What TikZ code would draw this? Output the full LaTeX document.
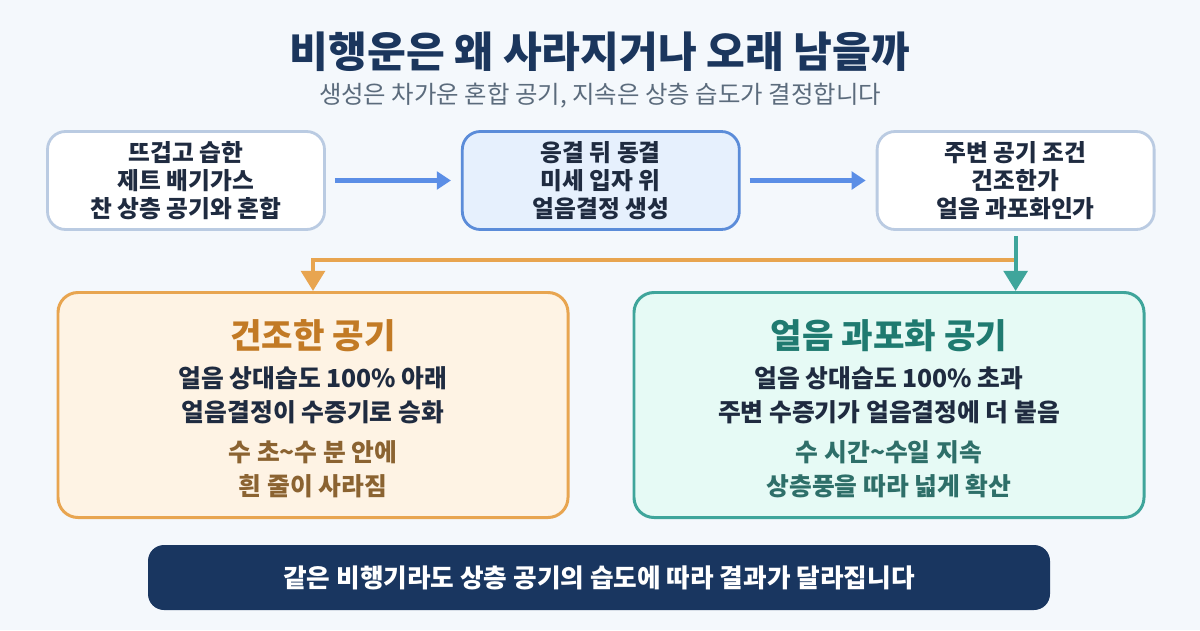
\documentclass[tikz,border=0pt]{standalone}
\usepackage{fontspec}
\setmainfont{Noto Sans CJK KR}
\usetikzlibrary{positioning, arrows.meta}

\definecolor{pagebg}{HTML}{F4F8FC}
\definecolor{navy}{HTML}{1B365D}
\definecolor{ink}{HTML}{1F2B40}
\definecolor{subgray}{HTML}{5B6B7C}
\definecolor{stageline}{HTML}{BACBE2}
\definecolor{coreline}{HTML}{5B8CD9}
\definecolor{corefill}{HTML}{E6F0FD}
\definecolor{flowblue}{HTML}{5B8EE6}
\definecolor{dryline}{HTML}{E8A550}
\definecolor{dryfill}{HTML}{FEF3E4}
\definecolor{dryhead}{HTML}{C27A25}
\definecolor{drytext}{HTML}{8B6331}
\definecolor{wetline}{HTML}{3FA59B}
\definecolor{wetfill}{HTML}{E6FAF5}
\definecolor{wethead}{HTML}{1F7A70}
\definecolor{wettext}{HTML}{2E6F69}
\definecolor{bannerbg}{HTML}{193660}

\begin{document}
\begin{tikzpicture}[
		% Title lines
		headline/.style={font=\bfseries\fontsize{24}{28}\selectfont, text=navy},
		subline/.style={font=\fontsize{13.9}{17}\selectfont, text=subgray},
		% Process stages (top row)
		stage/.style={
			rectangle,
			rounded corners=0.36cm,
			draw=stageline,
			fill=white,
			line width=1.6pt,
			minimum width=5.54cm,
			minimum height=1.96cm,
			align=center,
			text=ink,
			font=\bfseries\fontsize{13.5}{16}\selectfont
		},
		% Outcome boxes (bottom row)
		outcome/.style={
			rectangle,
			rounded corners=0.4cm,
			line width=1.7pt,
			minimum width=10.2cm,
			minimum height=4.5cm
		},
		outhead/.style={font=\bfseries\fontsize{19.5}{22}\selectfont},
		outbody/.style={align=center, font=\bfseries\fontsize{14.1}{19.3}\selectfont},
		% Arrows
		flow/.style={
			-{Triangle[width=10pt,length=8pt]},
			line width=2.4pt,
			draw=flowblue,
			shorten <=0.18cm,
			shorten >=0.2cm
		},
		branch/.style={
			-{Triangle[width=13.5pt,length=11.5pt]},
			line width=2.3pt
		},
		banner/.style={
			rectangle,
			rounded corners=0.32cm,
			fill=bannerbg,
			minimum width=18.04cm,
			minimum height=1.3cm,
			text=white,
			font=\bfseries\fontsize{14.6}{17}\selectfont
		}
	]
	
	% --- CANVAS ---
	\fill[pagebg] (0,0) rectangle (24,12.6);
	\useasboundingbox (0,0) rectangle (24,12.6);
	
	% --- TITLE ---
	\node[headline] (title) at (12,11.56) {비행운은 왜 사라지거나 오래 남을까};
	\node[subline] (subtitle) at (12,10.68) {생성은 차가운 혼합 공기, 지속은 상층 습도가 결정합니다};
	
	% --- STAGES ---
	\node[stage] (mix) at (3.72,8.99) {뜨겁고 습한\\제트 배기가스\\찬 상층 공기와 혼합};
	\node[stage, draw=coreline, fill=corefill, right=2.7cm of mix] (freeze) {응결 뒤 동결\\미세 입자 위\\얼음결정 생성};
	\node[stage, right=2.7cm of freeze] (ambient) {주변 공기 조건\\건조한가\\얼음 과포화인가};
	
	% --- OUTCOMES ---
	\node[outcome, draw=dryline, fill=dryfill] (dry) at (6.26,4.5) {};
	\node[outcome, draw=wetline, fill=wetfill, right=1.26cm of dry] (wet) {};
	
	% Dry air
	\node[outhead, text=dryhead] (dryname) at ([yshift=1.38cm]dry.center) {건조한 공기};
	\node[outbody, text=ink] (drywhy) at ([yshift=0.2cm]dry.center) {얼음 상대습도 100\% 아래\\얼음결정이 수증기로 승화};
	\node[outbody, text=drytext] (drywhen) at ([yshift=-1.29cm]dry.center) {수 초\textasciitilde 수 분 안에\\흰 줄이 사라짐};
	
	% Supersaturated air
	\node[outhead, text=wethead] (wetname) at ([yshift=1.38cm]wet.center) {얼음 과포화 공기};
	\node[outbody, text=ink] (wetwhy) at ([yshift=0.2cm]wet.center) {얼음 상대습도 100\% 초과\\주변 수증기가 얼음결정에 더 붙음};
	\node[outbody, text=wettext] (wetwhen) at ([yshift=-1.29cm]wet.center) {수 시간\textasciitilde 수일 지속\\상층풍을 따라 넓게 확산};
	
	% --- BOTTOM NOTE ---
	\node[banner] (note) at (11.98,1.05) {같은 비행기라도 상층 공기의 습도에 따라 결과가 달라집니다};
	
	% --- EDGES ---
	\draw[flow] (mix) -- (freeze);
	\draw[flow] (freeze) -- (ambient);
	
	% branch point under the condition box
	\coordinate (split) at (ambient.south |- 0,7.4);
	\draw[branch, draw=dryline] (split) -| (dry.north);
	\draw[branch, draw=wetline, shorten <=0.1cm] (ambient.south) -- (ambient.south |- wet.north);
	
\end{tikzpicture}
\end{document}
